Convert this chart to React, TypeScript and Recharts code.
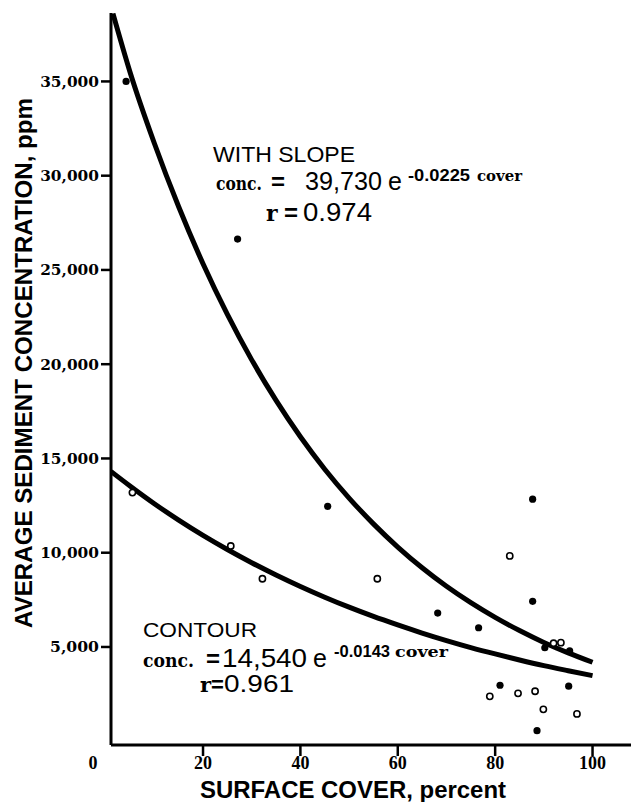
import React from 'react';
import { ComposedChart, Line, Scatter, XAxis, YAxis, Customized } from 'recharts';

// Fitted curve "WITH SLOPE": conc. = 39,730 e^(-0.0225 cover)
const slopeCurveX = [1.5, 5, 10, 15, 20, 25, 30, 35, 40, 45, 50, 55, 60, 65, 70, 75, 80, 85, 90, 95, 100];
const slopeCurveY = [38600, 35500, 31720, 28350, 25330, 22640, 20230, 18080, 16150, 14430, 12900, 11530, 10300, 9200, 8220, 7350, 6570, 5870, 5240, 4690, 4190];

// Fitted curve "CONTOUR": conc. = 14,540 e^(-0.0143 cover)
const contourCurveX = [1.1, 5, 10, 15, 20, 25, 30, 35, 40, 45, 50, 55, 60, 65, 70, 75, 80, 85, 90, 95, 100];
const contourCurveY = [14310, 13540, 12600, 11730, 10920, 10170, 9470, 8820, 8210, 7640, 7110, 6620, 6170, 5740, 5340, 4970, 4630, 4310, 4010, 3740, 3480];

// Observed points, with slope (filled)
const slopeObsX = [4.2, 27.1, 45.6, 68.2, 76.6, 87.7, 87.7, 90.2, 95.3, 81.0, 95.1, 88.6];
const slopeObsY = [35000, 26640, 12460, 6800, 6020, 12840, 7420, 4960, 4790, 2970, 2920, 560];

// Observed points, contour (open)
const contourObsX = [5.5, 25.7, 32.2, 55.8, 83.0, 92.0, 93.5, 78.9, 84.7, 88.2, 89.9, 96.8];
const contourObsY = [13190, 10360, 8620, 8620, 9830, 5200, 5230, 2380, 2540, 2650, 1690, 1450];

const xTicks = [20, 40, 60, 80, 100];
const yTicks = [5000, 10000, 15000, 20000, 25000, 30000, 35000];

const toPts = (xs: number[], ys: number[]) => xs.map((x, i) => ({ x, y: ys[i] }));
const slopeCurve = toPts(slopeCurveX, slopeCurveY);
const contourCurve = toPts(contourCurveX, contourCurveY);
const slopeObs = toPts(slopeObsX, slopeObsY);
const contourObs = toPts(contourObsX, contourObsY);

const SANS = 'Liberation Sans, Arial, sans-serif';
const SERIF = 'DejaVu Serif, serif';

const fmt = (v: number) => v.toLocaleString('en-US');

const XTick = (props: any) => {
  const { x, y, payload } = props;
  return (
    <text x={x} y={y + 13} textAnchor="middle" fontFamily="Liberation Serif, serif" fontWeight="bold" fontSize={18} fill="#000">
      {payload.value}
    </text>
  );
};

const YTick = (props: any) => {
  const { x, y, payload } = props;
  const s = fmt(payload.value);
  return (
    <text x={x} y={y + 5.5} textAnchor="end" fontFamily={SERIF} fontWeight="bold" fontSize={15} fill="#000" textLength={s.length * 9.8} lengthAdjust="spacingAndGlyphs">
      {s}
    </text>
  );
};

const Annotations = () => (
  <g fill="#000">
    {/* origin label */}
    <text x={93} y={769} textAnchor="middle" fontFamily="Liberation Serif, serif" fontWeight="bold" fontSize={18}>0</text>
    {/* axis titles */}
    <text x={353} y={798} textAnchor="middle" fontFamily={SANS} fontWeight="bold" fontSize={23} textLength={306} lengthAdjust="spacingAndGlyphs">SURFACE COVER, percent</text>
    <text transform="translate(32,363) rotate(-90)" x={0} y={0} textAnchor="middle" fontFamily={SANS} fontWeight="bold" fontSize={23} textLength={530} lengthAdjust="spacingAndGlyphs">AVERAGE SEDIMENT CONCENTRATION, ppm</text>

    {/* WITH SLOPE block */}
    <text x={213} y={162} fontFamily={SANS} fontSize={22} textLength={142} lengthAdjust="spacingAndGlyphs">WITH SLOPE</text>
    <text x={216} y={190} fontFamily={SERIF} fontWeight="bold" fontSize={19} textLength={46} lengthAdjust="spacingAndGlyphs">conc.</text>
    <text x={271} y={190} fontFamily={SANS} fontWeight="bold" fontSize={24}>=</text>
    <text x={305} y={190} fontFamily={SANS} fontSize={25} textLength={77} lengthAdjust="spacingAndGlyphs">39,730</text>
    <text x={388} y={190} fontFamily={SANS} fontSize={25}>e</text>
    <text x={408} y={181} fontFamily={SANS} fontWeight="bold" fontSize={16} textLength={62} lengthAdjust="spacingAndGlyphs">-0.0225</text>
    <text x={477} y={181} fontFamily={SERIF} fontWeight="bold" fontSize={15} textLength={45} lengthAdjust="spacingAndGlyphs">cover</text>
    <text x={266} y={221} fontFamily={SERIF} fontWeight="bold" fontSize={22}>r</text>
    <text x={284} y={221} fontFamily={SANS} fontWeight="bold" fontSize={24}>=</text>
    <text x={303} y={221} fontFamily={SANS} fontSize={25} textLength={69} lengthAdjust="spacingAndGlyphs">0.974</text>

    {/* CONTOUR block */}
    <text x={143} y={637} fontFamily={SANS} fontSize={21} textLength={114} lengthAdjust="spacingAndGlyphs">CONTOUR</text>
    <text x={143} y={667} fontFamily={SERIF} fontWeight="bold" fontSize={19} textLength={51} lengthAdjust="spacingAndGlyphs">conc.</text>
    <text x={206} y={667} fontFamily={SANS} fontWeight="bold" fontSize={24}>=</text>
    <text x={222} y={667} fontFamily={SANS} fontSize={25} textLength={85} lengthAdjust="spacingAndGlyphs">14,540</text>
    <text x={313} y={667} fontFamily={SANS} fontSize={25}>e</text>
    <text x={334} y={657} fontFamily={SANS} fontWeight="bold" fontSize={16} textLength={56} lengthAdjust="spacingAndGlyphs">-0.0143</text>
    <text x={395} y={657} fontFamily={SERIF} fontWeight="bold" fontSize={15} textLength={53} lengthAdjust="spacingAndGlyphs">cover</text>
    <text x={200} y={692} fontFamily={SERIF} fontWeight="bold" fontSize={21}>r</text>
    <text x={211} y={692} fontFamily={SANS} fontWeight="bold" fontSize={22}>=</text>
    <text x={224} y={692} fontFamily={SANS} fontSize={24} textLength={70} lengthAdjust="spacingAndGlyphs">0.961</text>
  </g>
);

const FilledDot = (props: any) => <circle cx={props.cx} cy={props.cy} r={3.6} fill="#000" />;
const OpenDot = (props: any) => <circle cx={props.cx} cy={props.cy} r={3.1} fill="#fff" stroke="#000" strokeWidth={1.6} />;

export default function App() {
  return (
    <div style={{ position: 'absolute', left: 0, top: 0, width: 631, height: 802, background: '#fff' }}>
      <ComposedChart width={631} height={802} margin={{ top: 13, right: 0, bottom: 0, left: 0 }}>
        <XAxis
          type="number"
          dataKey="x"
          domain={[1.1, 107.9]}
          allowDataOverflow
          ticks={xTicks}
          height={57}
          tickSize={11}
          tickMargin={0}
          axisLine={{ stroke: '#000', strokeWidth: 3 }}
          tickLine={{ stroke: '#000', strokeWidth: 2.5 }}
          tick={<XTick />}
        />
        <YAxis
          type="number"
          dataKey="y"
          domain={[-200, 38630]}
          allowDataOverflow
          ticks={yTicks}
          width={111}
          tickSize={10}
          tickMargin={2}
          axisLine={{ stroke: '#000', strokeWidth: 3 }}
          tickLine={{ stroke: '#000', strokeWidth: 2.5 }}
          tick={<YTick />}
        />
        <Line data={slopeCurve} dataKey="y" type="monotone" stroke="#000" strokeWidth={5} dot={false} activeDot={false} isAnimationActive={false} />
        <Line data={contourCurve} dataKey="y" type="monotone" stroke="#000" strokeWidth={5} dot={false} activeDot={false} isAnimationActive={false} />
        <Scatter data={slopeObs} dataKey="y" shape={<FilledDot />} isAnimationActive={false} />
        <Scatter data={contourObs} dataKey="y" shape={<OpenDot />} isAnimationActive={false} />
        <Customized component={Annotations} />
      </ComposedChart>
    </div>
  );
}
